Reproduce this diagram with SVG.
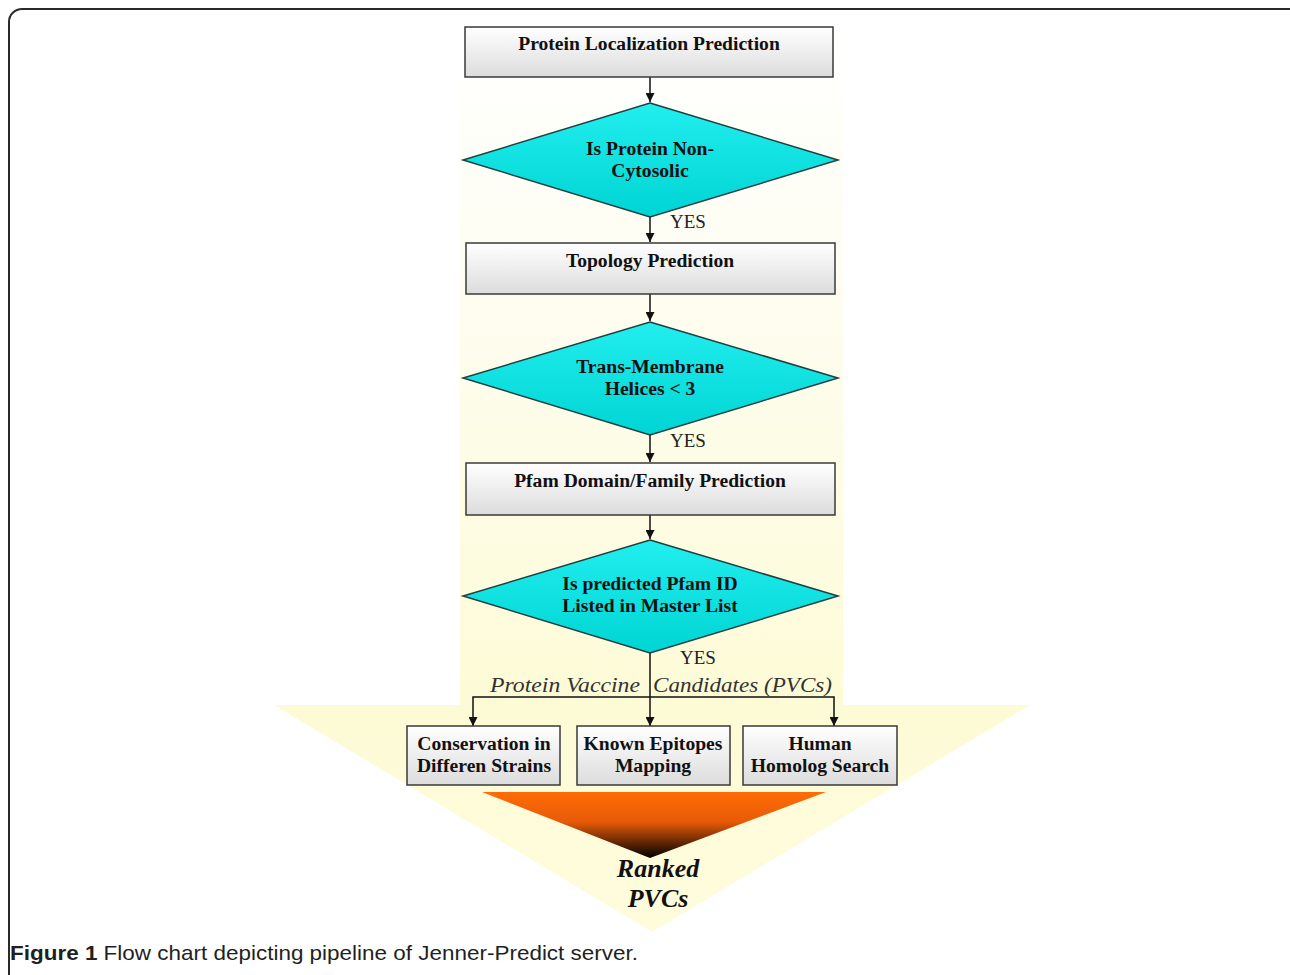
<svg xmlns="http://www.w3.org/2000/svg" width="1290" height="975" viewBox="0 0 1290 975">
<defs>
<linearGradient id="shaft" x1="0" y1="0" x2="0" y2="1">
<stop offset="0" stop-color="#ffffff"/>
<stop offset="0.4" stop-color="#fefdf0"/>
<stop offset="1" stop-color="#fdfbd6"/>
</linearGradient>
<linearGradient id="head" x1="0" y1="0" x2="0" y2="1">
<stop offset="0" stop-color="#fdfbd6"/>
<stop offset="1" stop-color="#fefcdc"/>
</linearGradient>
<linearGradient id="orange" x1="0" y1="0" x2="0" y2="1">
<stop offset="0" stop-color="#ff6c06"/>
<stop offset="0.45" stop-color="#e85a08"/>
<stop offset="1" stop-color="#000000"/>
</linearGradient>
<linearGradient id="box" x1="0" y1="0" x2="0" y2="1">
<stop offset="0" stop-color="#ffffff"/>
<stop offset="1" stop-color="#dcdcdc"/>
</linearGradient>
<linearGradient id="dia" x1="0" y1="0" x2="0" y2="1">
<stop offset="0" stop-color="#22eeee"/>
<stop offset="1" stop-color="#00d4d4"/>
</linearGradient>
<marker id="arr" viewBox="0 0 10 10" refX="10" refY="5" markerWidth="9" markerHeight="9" markerUnits="userSpaceOnUse" orient="auto">
<path d="M0,0 L10,5 L0,10 z" fill="#111"/>
</marker>
</defs>
<style>
.box{fill:url(#box);stroke:#3a3a3a;stroke-width:1.5}
.dia{fill:url(#dia);stroke:#1f3f3f;stroke-width:1.5}
.t{font-family:"Liberation Serif",serif;font-weight:bold;font-size:19.6px;fill:#111;text-anchor:middle}
.yes{font-family:"Liberation Serif",serif;font-size:19px;fill:#222}
.pvc{font-family:"Liberation Serif",serif;font-style:italic;font-size:22px;fill:#333}
.c{stroke:#111;stroke-width:1.5;fill:none}
</style>
<rect x="0" y="0" width="1290" height="975" fill="#ffffff"/>
<rect x="9" y="9" width="1300" height="1000" rx="13" ry="13" fill="none" stroke="#2a2a2a" stroke-width="2"/>
<g id="background">
<rect x="460" y="20" width="383" height="686" fill="url(#shaft)"/>
<polygon points="274,705 1030,705 652,932" fill="url(#head)"/>
<polygon points="482,792 826,792 650,858" fill="url(#orange)"/>
</g>
<g id="connectors">
<line class="c" x1="650" y1="77" x2="650" y2="102" marker-end="url(#arr)"/>
<line class="c" x1="650" y1="217" x2="650" y2="242" marker-end="url(#arr)"/>
<line class="c" x1="650" y1="294" x2="650" y2="321" marker-end="url(#arr)"/>
<line class="c" x1="650" y1="435" x2="650" y2="462" marker-end="url(#arr)"/>
<line class="c" x1="650" y1="515" x2="650" y2="539" marker-end="url(#arr)"/>
<line class="c" x1="650" y1="653" x2="650" y2="726" marker-end="url(#arr)"/>
<polyline class="c" points="650,697 473,697 473,726" marker-end="url(#arr)"/>
<polyline class="c" points="650,697 834,697 834,726" marker-end="url(#arr)"/>
<text class="yes" x="670" y="228">YES</text>
<text class="yes" x="670" y="447">YES</text>
<text class="yes" x="680" y="664">YES</text>
<text class="pvc" x="490" y="692" textLength="150" lengthAdjust="spacingAndGlyphs">Protein Vaccine</text>
<text class="pvc" x="653" y="692" textLength="179" lengthAdjust="spacingAndGlyphs">Candidates (PVCs)</text>
</g>
<g id="n1"><rect class="box" x="465" y="27" width="368" height="50"/><text class="t" x="649" y="50">Protein Localization Prediction</text></g>
<g id="d1"><polygon class="dia" points="650,103 838,160 650,217 463,160"/><text class="t" x="650" y="155">Is Protein Non-</text><text class="t" x="650" y="177">Cytosolic</text></g>
<g id="n2"><rect class="box" x="466" y="243" width="369" height="51"/><text class="t" x="650" y="267">Topology Prediction</text></g>
<g id="d2"><polygon class="dia" points="650,322 838,378 650,435 463,378"/><text class="t" x="650" y="373">Trans-Membrane</text><text class="t" x="650" y="395">Helices &lt; 3</text></g>
<g id="n3"><rect class="box" x="466" y="463" width="369" height="52"/><text class="t" x="650" y="487">Pfam Domain/Family Prediction</text></g>
<g id="d3"><polygon class="dia" points="650,540 838,596 650,653 463,596"/><text class="t" x="650" y="590">Is predicted Pfam ID</text><text class="t" x="650" y="612">Listed in Master List</text></g>
<g id="n4"><rect class="box" x="407" y="726" width="153" height="59"/><text class="t" x="484" y="750">Conservation in</text><text class="t" x="484" y="772">Differen Strains</text></g>
<g id="n5"><rect class="box" x="577" y="726" width="153" height="59"/><text class="t" x="653" y="750">Known Epitopes</text><text class="t" x="653" y="772">Mapping</text></g>
<g id="n6"><rect class="box" x="743" y="726" width="154" height="59"/><text class="t" x="820" y="750">Human</text><text class="t" x="820" y="772">Homolog Search</text></g>
<g id="ranked">
<text x="658" y="877" font-family="Liberation Serif,serif" font-style="italic" font-weight="bold" font-size="26" fill="#111" text-anchor="middle">Ranked</text>
<text x="658" y="907" font-family="Liberation Serif,serif" font-style="italic" font-weight="bold" font-size="26" fill="#111" text-anchor="middle">PVCs</text>
</g>
<text x="10" y="960" font-family="Liberation Sans,sans-serif" font-size="21" fill="#231f20" textLength="628" lengthAdjust="spacingAndGlyphs"><tspan font-weight="bold">Figure 1</tspan> Flow chart depicting pipeline of Jenner-Predict server.</text>
</svg>
